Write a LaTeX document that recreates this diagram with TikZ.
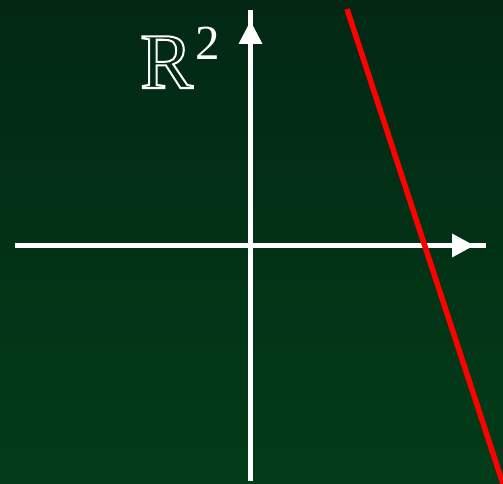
\documentclass[tikz,border=0pt]{standalone}
\usepackage{fontspec}
\setmainfont{Liberation Serif}
\definecolor{bgtop}{RGB}{2,40,20}
\definecolor{bgbot}{RGB}{2,60,24}
\definecolor{axisred}{RGB}{255,0,0}
\tikzset{
  axisline/.style={white, line width=5.5pt},
  axishead/.style={fill=white},
  redline/.style={axisred, line width=5.5pt},
  lbl/.style={text=white, inner sep=0pt, anchor=base west}
}
\newcommand{\outlinetext}[1]{\special{pdf:literal direct 1 Tr 2 w 1 1 1 RG}#1\special{pdf:literal direct 0 Tr}}
\begin{document}
\begin{tikzpicture}[x=1pt,y=-1pt]
  \useasboundingbox (0,0) rectangle (503,484);
  \shade[top color=bgtop, bottom color=bgbot] (0,0) rectangle (503,484);
  % axes
  \coordinate (xl) at (15,245.5);
  \coordinate (xr) at (486,245.5);
  \coordinate (yb) at (250.5,481);
  \coordinate (yt) at (250.5,10);
  \draw[axisline] (xl) -- (xr);
  \draw[axisline] (yb) -- (yt);
  \fill[axishead] (452,233.5) -- (474,245.5) -- (452,257.5) -- cycle;
  \fill[axishead] (238.5,44) -- (250.5,21) -- (262.5,44) -- cycle;
  % red line
  \coordinate (ra) at (347,9);
  \coordinate (rb) at (506,493);
  \begin{scope}
    \clip (0,0) rectangle (503,484);
    \draw[redline] (ra) -- (rb);
  \end{scope}
  % label
  \node[lbl, font=\fontsize{79}{80}\selectfont] (R) at (140,88) {\outlinetext{R}};
  \node[lbl, font=\fontsize{49}{50}\selectfont] (two) at (195,60) {2};
\end{tikzpicture}
\end{document}
